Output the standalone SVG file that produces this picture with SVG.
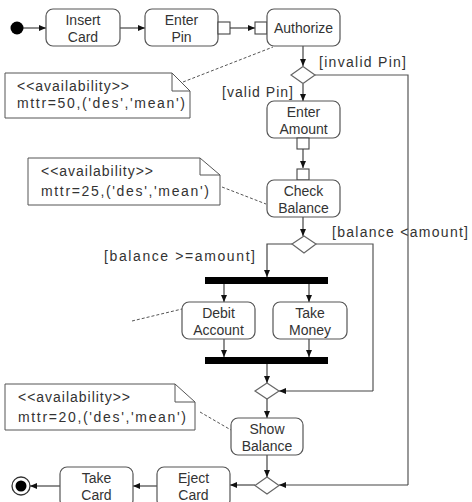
<svg xmlns="http://www.w3.org/2000/svg" width="472" height="502" viewBox="0 0 472 502">
<defs>
<marker id="ah" markerUnits="userSpaceOnUse" markerWidth="8" markerHeight="8" refX="7" refY="3" orient="auto">
<path d="M0,0 L7,3 L0,6 z" fill="#111"/>
</marker>
<style>
.box{fill:#fff;stroke:#555;stroke-width:1.2}
.pin{fill:#fff;stroke:#444;stroke-width:1.1}
.dia{fill:#fff;stroke:#666;stroke-width:1.2}
.bar{fill:#000}
.note{fill:#fff;stroke:#555;stroke-width:1}
.t{font-family:"Liberation Sans",Arial,sans-serif;font-size:14px;fill:#333;text-anchor:middle}
.lb{font-family:"Liberation Sans",Arial,sans-serif;font-size:14px;fill:#333}
.ln{fill:none;stroke:#444;stroke-width:1.2;marker-end:url(#ah)}
.pl{fill:none;stroke:#555;stroke-width:1.2}
.dash{fill:none;stroke:#555;stroke-width:1;stroke-dasharray:3,2}
</style>
</defs>
<rect width="472" height="502" fill="#fff"/>

<g id="connectors">
<path class="ln" d="M23,28 H46"/>
<path class="ln" d="M120,28 H145"/>
<path class="ln" d="M230,28 H255"/>
<path class="ln" d="M303,46 V66"/>
<path class="ln" d="M303,84 V101"/>
<path class="pl" d="M315,75 H408 V485"/>
<path class="ln" d="M408,485 H279"/>
<path class="ln" d="M303,149 V168"/>
<path class="ln" d="M303,217 V236"/>
<path class="ln" d="M292,244 H267 V277"/>
<path class="pl" d="M316,244 H373 V391"/>
<path class="ln" d="M373,391 H279"/>
<path class="ln" d="M224,284 V302"/>
<path class="ln" d="M309,284 V302"/>
<path class="ln" d="M224,339 V357"/>
<path class="ln" d="M309,339 V357"/>
<path class="ln" d="M267,364 V383"/>
<path class="ln" d="M267,399 V418"/>
<path class="ln" d="M267,455 V477"/>
<path class="ln" d="M255,485 H230"/>
<path class="ln" d="M157,486 H133"/>
<path class="ln" d="M60,486 H30"/>
<path class="dash" d="M183,82 L273,47"/>
<path class="dash" d="M222,187 L266,204"/>
<path class="dash" d="M200,412 L231,430"/>
<path class="dash" d="M132,321 L182,309"/>
<text class="lb" x="319" y="67" textLength="87" lengthAdjust="spacing">[invalid  Pin]</text>
<text class="lb" x="222" y="97" textLength="71" lengthAdjust="spacing">[valid  Pin]</text>
<text class="lb" x="332" y="237" textLength="136" lengthAdjust="spacing">[balance  &lt;amount]</text>
<text class="lb" x="104" y="261" textLength="151" lengthAdjust="spacing">[balance  &gt;=amount]</text>
</g>

<g id="start"><circle cx="17" cy="28" r="6.5" fill="#000"/></g>

<g id="insertCard">
<rect class="box" x="46" y="9" width="74" height="37" rx="7"/>
<text class="t" x="83" y="25">Insert</text>
<text class="t" x="83" y="42">Card</text>
</g>

<g id="enterPin">
<rect class="box" x="145" y="9" width="73" height="37" rx="7"/>
<text class="t" x="181.5" y="25">Enter</text>
<text class="t" x="181.5" y="42">Pin</text>
<rect class="pin" x="218" y="22" width="12" height="12"/>
</g>

<g id="authorize">
<rect class="pin" x="255" y="22" width="12" height="12"/>
<rect class="box" x="267" y="9" width="73" height="37" rx="7"/>
<text class="t" x="303.5" y="33">Authorize</text>
</g>

<g id="decision1"><path class="dia" d="M303,66.5 L315,75 L303,83.5 L291,75 z"/></g>

<g id="enterAmount">
<rect class="box" x="267" y="101" width="73" height="37" rx="7"/>
<text class="t" x="303.5" y="117">Enter</text>
<text class="t" x="303.5" y="134">Amount</text>
<rect class="pin" x="297" y="138" width="12" height="11"/>
</g>

<g id="checkBalance">
<rect class="pin" x="297" y="169" width="12" height="11"/>
<rect class="box" x="267" y="180" width="73" height="37" rx="7"/>
<text class="t" x="303.5" y="196">Check</text>
<text class="t" x="303.5" y="213">Balance</text>
</g>

<g id="decision2"><path class="dia" d="M304,236 L316,244 L304,253 L292,244 z"/></g>

<g id="fork"><rect class="bar" x="205" y="277" width="123" height="7"/></g>

<g id="debitAccount">
<rect class="box" x="182" y="302" width="73" height="37" rx="7"/>
<text class="t" x="218.5" y="318">Debit</text>
<text class="t" x="218.5" y="335">Account</text>
</g>

<g id="takeMoney">
<rect class="box" x="273" y="302" width="74" height="37" rx="7"/>
<text class="t" x="310" y="318">Take</text>
<text class="t" x="310" y="335">Money</text>
</g>

<g id="join"><rect class="bar" x="205" y="357" width="123" height="7"/></g>

<g id="merge"><path class="dia" d="M267,383 L279,391 L267,399 L255,391 z"/></g>

<g id="showBalance">
<rect class="box" x="231" y="418" width="72" height="37" rx="7"/>
<text class="t" x="267" y="434">Show</text>
<text class="t" x="267" y="451">Balance</text>
</g>

<g id="merge2"><path class="dia" d="M267,477 L279,485.5 L267,494 L255,485.5 z"/></g>

<g id="ejectCard">
<rect class="box" x="157" y="467" width="73" height="40" rx="7"/>
<text class="t" x="193.5" y="483">Eject</text>
<text class="t" x="193.5" y="500">Card</text>
</g>

<g id="takeCard">
<rect class="box" x="60" y="467" width="73" height="40" rx="7"/>
<text class="t" x="96.5" y="483">Take</text>
<text class="t" x="96.5" y="500">Card</text>
</g>

<g id="end">
<circle cx="21" cy="486" r="9" fill="#fff" stroke="#333" stroke-width="1.3"/>
<circle cx="21" cy="486" r="5.5" fill="#000"/>
</g>

<g id="note1">
<path class="note" d="M5,73 H172 L190,91 V118 H5 z M172,73 V91 H190"/>
<text class="lb" x="17" y="91" textLength="112" lengthAdjust="spacing">&lt;&lt;availability&gt;&gt;</text>
<text class="lb" x="17" y="108" textLength="168" lengthAdjust="spacing">mttr=50,('des','mean')</text>
</g>

<g id="note2">
<path class="note" d="M28,158 H200 L220,175 V205 H28 z M200,158 V175 H220"/>
<text class="lb" x="41" y="176" textLength="112" lengthAdjust="spacing">&lt;&lt;availability&gt;&gt;</text>
<text class="lb" x="41" y="196" textLength="168" lengthAdjust="spacing">mttr=25,('des','mean')</text>
</g>

<g id="note3">
<path class="note" d="M5,384 H175 L195,402 V430 H5 z M175,384 V402 H195"/>
<text class="lb" x="18" y="402" textLength="112" lengthAdjust="spacing">&lt;&lt;availability&gt;&gt;</text>
<text class="lb" x="18" y="422" textLength="168" lengthAdjust="spacing">mttr=20,('des','mean')</text>
</g>
</svg>
